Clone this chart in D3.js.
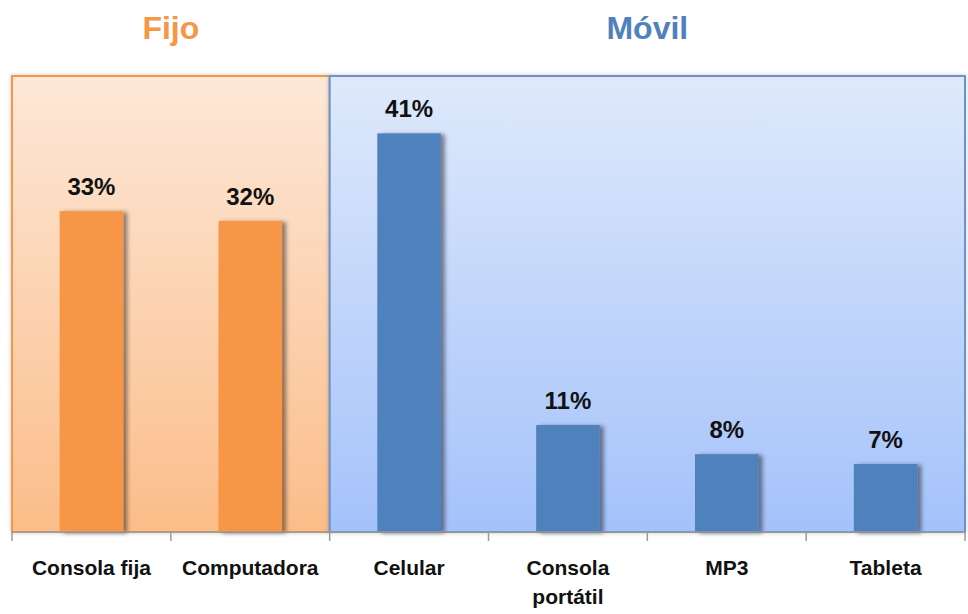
<!DOCTYPE html>
<html>
<head>
<meta charset="utf-8">
<script src="https://cdn.jsdelivr.net/npm/d3@7"></script>
<style>
  body { margin: 0; background: #fff; }
  svg { display: block; }
</style>
</head>
<body>
<div id="chart"></div>
<script>
// data
var categories = ["Consola fija", "Computadora", "Celular", "Consola portátil", "MP3", "Tableta"];
var groups = ["Fijo", "Fijo", "Móvil", "Móvil", "Móvil", "Móvil"];
var values = [33, 32, 41, 11, 8, 7];
var groupNames = ["Fijo", "Móvil"];

var width = 968, height = 614;
var plotLeft = 12, plotRight = 965, plotTop = 76, plotBottom = 532;

var svg = d3.select("#chart").append("svg")
  .attr("width", width)
  .attr("height", height);

var defs = svg.append("defs");

// panel gradients
var gradInfo = {
  "Fijo": { top: "#fde8d8", bottom: "#fbbd89", stroke: "#f79646", title: "#f79646", bar: "#f79646" },
  "Móvil": { top: "#dfe9fb", bottom: "#a4c2fa", stroke: "#6a94cc", title: "#4f81bd", bar: "#4f81bd" }
};
groupNames.forEach((g, i) => {
  var lg = defs.append("linearGradient")
    .attr("id", "grad" + i)
    .attr("x1", 0).attr("y1", 0).attr("x2", 0).attr("y2", 1);
  lg.append("stop").attr("offset", "0%").attr("stop-color", gradInfo[g].top);
  lg.append("stop").attr("offset", "100%").attr("stop-color", gradInfo[g].bottom);
});

var shadow = defs.append("filter").attr("id", "barShadow")
  .attr("x", "-20%").attr("y", "-10%").attr("width", "150%").attr("height", "120%");
shadow.append("feDropShadow")
  .attr("dx", 4).attr("dy", 1).attr("stdDeviation", 2)
  .attr("flood-color", "#000").attr("flood-opacity", 0.45);

var panelShadow = defs.append("filter").attr("id", "panelShadow")
  .attr("x", "-5%").attr("y", "-5%").attr("width", "110%").attr("height", "110%");
panelShadow.append("feDropShadow")
  .attr("dx", 0).attr("dy", 0).attr("stdDeviation", 2)
  .attr("flood-color", "#000").attr("flood-opacity", 0.2);

// scales
var x = d3.scaleBand()
  .domain(categories)
  .range([plotLeft, plotRight])
  .paddingInner(0.6)
  .paddingOuter(0.3);

var step = x.step();
var y = d3.scaleLinear()
  .domain([0, 46.9])
  .range([plotBottom, plotTop]);

function bandStart(c) { return x(c) + x.bandwidth() / 2 - step / 2; }
function bandEnd(c) { return x(c) + x.bandwidth() / 2 + step / 2; }

// panels
groupNames.forEach((g, i) => {
  var cats = categories.filter((c, j) => groups[j] == g);
  var x0 = bandStart(cats[0]);
  var x1 = bandEnd(cats[cats.length - 1]);
  svg.append("rect")
    .attr("x", x0).attr("y", plotTop)
    .attr("width", x1 - x0).attr("height", plotBottom - plotTop)
    .attr("fill", "url(#grad" + i + ")")
    .attr("stroke", gradInfo[g].stroke)
    .attr("stroke-width", 2)
    .attr("filter", "url(#panelShadow)");

  svg.append("text")
    .attr("x", (x0 + x1) / 2)
    .attr("y", 39)
    .attr("text-anchor", "middle")
    .attr("font-family", "'Liberation Sans', Arial, sans-serif")
    .attr("font-weight", "bold")
    .attr("font-size", 32)
    .attr("fill", gradInfo[g].title)
    .text(g);
});

// bars
svg.selectAll(".bar")
  .data(values)
  .enter().append("rect")
  .attr("class", "bar")
  .attr("x", (d, i) => x(categories[i]))
  .attr("y", d => y(d))
  .attr("width", x.bandwidth())
  .attr("height", d => y(0) - y(d))
  .attr("fill", (d, i) => gradInfo[groups[i]].bar)
  .attr("filter", "url(#barShadow)");

// value labels
svg.selectAll(".val")
  .data(values)
  .enter().append("text")
  .attr("class", "val")
  .attr("x", (d, i) => x(categories[i]) + x.bandwidth() / 2)
  .attr("y", d => y(d) - 16)
  .attr("text-anchor", "middle")
  .attr("font-family", "'Liberation Sans Narrow', 'Arial Narrow', 'Liberation Sans', sans-serif")
  .attr("font-stretch", "condensed")
  .attr("font-weight", "bold")
  .attr("font-size", 24)
  .attr("fill", "#111")
  .text(d => d + "%");

// axis line and ticks
var axis = svg.append("g");
axis.append("line")
  .attr("x1", plotLeft).attr("x2", plotRight)
  .attr("y1", plotBottom).attr("y2", plotBottom)
  .attr("stroke", "#9a9a9a").attr("stroke-width", 1.5);

var tickXs = categories.map(c => bandStart(c)).concat([bandEnd(categories[categories.length - 1])]);
axis.selectAll(".tick")
  .data(tickXs)
  .enter().append("line")
  .attr("x1", d => d).attr("x2", d => d)
  .attr("y1", plotBottom).attr("y2", plotBottom + 9)
  .attr("stroke", "#9a9a9a").attr("stroke-width", 1.5);

// category labels
var labelWrap = { "Consola portátil": ["Consola", "portátil"] };
categories.forEach(c => {
  var lines = labelWrap[c] || [c];
  var t = svg.append("text")
    .attr("x", x(c) + x.bandwidth() / 2)
    .attr("y", 575)
    .attr("text-anchor", "middle")
    .attr("font-family", "'Liberation Sans', Arial, sans-serif")
    .attr("font-weight", "bold")
    .attr("font-size", 21)
    .attr("fill", "#111");
  lines.forEach((l, k) => {
    t.append("tspan")
      .attr("x", x(c) + x.bandwidth() / 2)
      .attr("dy", k == 0 ? 0 : 29)
      .text(l);
  });
});
</script>
</body>
</html>
